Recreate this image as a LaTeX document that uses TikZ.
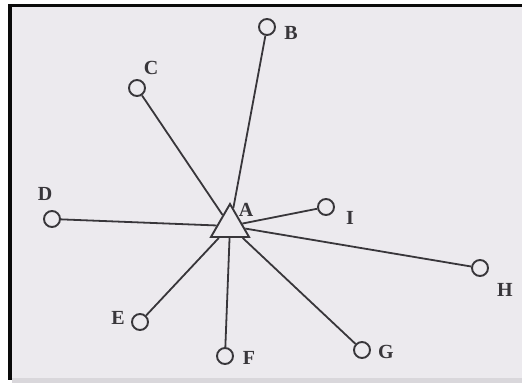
\documentclass[tikz,border=0pt]{standalone}
\usepackage{fontspec}
\setmainfont{Liberation Serif}
\usetikzlibrary{shapes.geometric}
\definecolor{paper}{HTML}{ECEAEE}
\definecolor{ink}{HTML}{38363A}
\definecolor{frame}{HTML}{0A0A0A}
\begin{document}
\begin{tikzpicture}[x=1pt,y=-1pt,
  leaf/.style={circle,draw=ink,line width=1.9pt,fill=paper,minimum size=16pt,inner sep=0pt},
  hub/.style={regular polygon,regular polygon sides=3,draw=ink,line width=1.9pt,fill=paper,minimum size=44pt,inner sep=0pt},
  lab/.style={font=\bfseries\fontsize{20}{20}\selectfont,text=ink,inner sep=0pt},
  edge/.style={draw=ink,line width=1.8pt}]
\useasboundingbox (0,0) rectangle (522,383);
\fill[white] (0,0) rectangle (522,383);
\fill[frame] (8,4) rectangle (522,380);
\fill[paper] (12,7) rectangle (522,380);
\fill[paper!92!black] (12,378) rectangle (522,383);
% nodes
\node[hub] (A) at (230,226) {};
\node[leaf] (B) at (267,27) {};
\node[leaf] (C) at (137,88) {};
\node[leaf] (D) at (52,219) {};
\node[leaf] (I) at (326,207) {};
\node[leaf] (H) at (480,268) {};
\node[leaf] (G) at (362,350) {};
\node[leaf] (F) at (225,356) {};
\node[leaf] (E) at (140,322) {};
% labels
\node[lab] (lA) at (246,210) {A};
\node[lab] (lB) at (291,33) {B};
\node[lab] (lC) at (151,68) {C};
\node[lab] (lD) at (45,194) {D};
\node[lab] (lI) at (350,218) {I};
\node[lab] (lH) at (505,290) {H};
\node[lab] (lG) at (386,352) {G};
\node[lab] (lF) at (249,358) {F};
\node[lab] (lE) at (118,318) {E};
% edges
\draw[edge] (B) -- (A);
\draw[edge] (C) -- (A);
\draw[edge] (D) -- (A);
\draw[edge] (I) -- (A);
\draw[edge] (H) -- (A);
\draw[edge] (G) -- (A);
\draw[edge] (F) -- (A);
\draw[edge] (E) -- (A);
\end{tikzpicture}
\end{document}
